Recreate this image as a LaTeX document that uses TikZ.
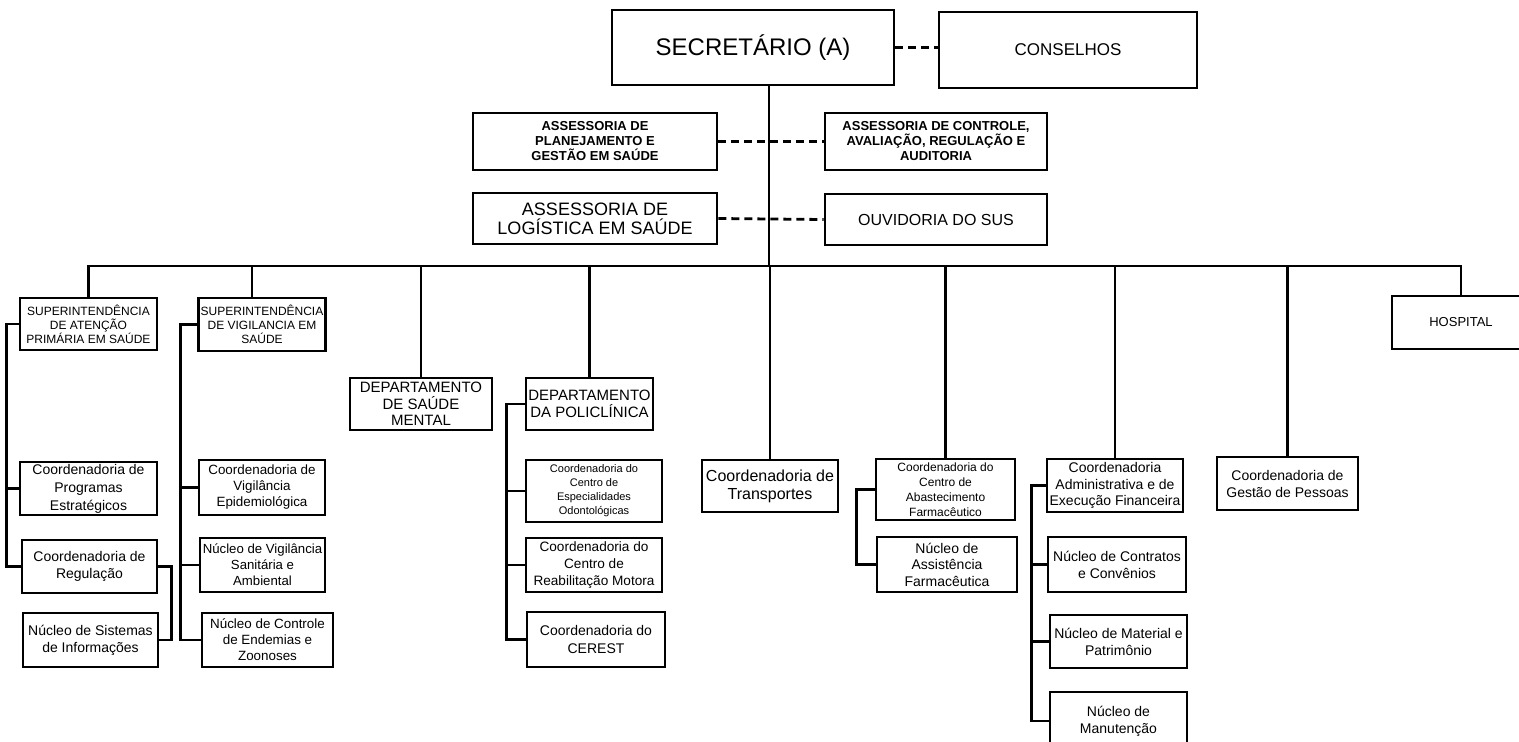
\documentclass[tikz,border=0pt]{standalone}
\usepackage{fontspec}
\setmainfont{Liberation Sans}
\usepackage{tikz}
\usetikzlibrary{calc,positioning}

\begin{document}
\begin{tikzpicture}[x=0.5pt,y=-0.5pt,
  caixa/.style 2 args={draw,line width=1.4pt,align=center,inner sep=1pt,
    minimum width=#1*0.5pt,minimum height=#2*0.5pt},
  fs/.style 2 args={font=\fontsize{#1}{#2}\selectfont},
  liga/.style={line width=1.4pt},
  tracejado/.style={line width=1.4pt,dash pattern=on 4pt off 2.5pt}]
  \useasboundingbox (0,0) rectangle (1519,741);
  \clip (0,0) rectangle (1519,741);
  % topo
  \node[caixa={282}{75},fs={12}{14}] (sec) at (753,47.5) {SECRETÁRIO (A)};
  \node[caixa={258}{76},fs={8.5}{10}] (cons) at (1068,50) {CONSELHOS};
  \node[caixa={244}{57},font=\bfseries\fontsize{6.5}{7.5}\selectfont] (aplan) at (595,141.5) {ASSESSORIA DE\\PLANEJAMENTO E\\GESTÃO EM SAÚDE};
  \node[caixa={222}{57},font=\bfseries\fontsize{6.5}{7.5}\selectfont] (actrl) at (936,141.5) {ASSESSORIA DE CONTROLE,\\AVALIAÇÃO, REGULAÇÃO E\\AUDITORIA};
  \node[caixa={244}{51},fs={9}{9.5}] (alog) at (595,218.5) {ASSESSORIA DE\\LOGÍSTICA EM SAÚDE};
  \node[caixa={222}{51},fs={8}{9}] (ouv) at (936,219.5) {OUVIDORIA DO SUS};
  \coordinate (tronco) at (769,266);
  \draw[liga] (sec.south -| tronco) -- (tronco);
  \draw[tracejado] (sec.east) -- (sec.east -| cons.west);
  \draw[tracejado] (aplan.east) -- (actrl.west);
  \draw[tracejado] (alog.east) -- (ouv.west);
  % segundo nivel
  \node[caixa={137}{52},fs={6}{7}] (sat) at (88.5,324) {SUPERINTENDÊNCIA\\DE ATENÇÃO\\PRIMÁRIA EM SAÚDE};
  \node[caixa={126}{53},fs={6}{7}] (svs) at (262,324.5) {SUPERINTENDÊNCIA\\DE VIGILANCIA EM\\SAÚDE};
  \node[caixa={142}{52},fs={7.5}{8.3}] (dsm) at (421,404) {DEPARTAMENTO\\DE SAÚDE\\MENTAL};
  \node[caixa={127}{52},fs={7.5}{8.3}] (dpol) at (589.5,404) {DEPARTAMENTO\\DA POLICLÍNICA};
  \node[caixa={136}{52},fs={8}{9}] (ctr) at (770,486) {Coordenadoria de\\Transportes};
  \node[caixa={139}{61},fs={6}{7.5}] (caf) at (945.5,489.5) {Coordenadoria do\\Centro de\\Abastecimento\\Farmacêutico};
  \node[caixa={136}{53},fs={7}{8.3}] (cafin) at (1115,485.5) {Coordenadoria\\Administrativa e de\\Execução Financeira};
  \node[caixa={141}{53},fs={7}{8.5}] (cgp) at (1287.5,483.5) {Coordenadoria de\\Gestão de Pessoas};
  \node[caixa={138}{53},fs={6.5}{8}] (hosp) at (1461,322.5) {HOSPITAL};
  \draw[liga] (sat.north) -- (sat.north |- tronco) -- (hosp.north |- tronco) -- (hosp.north);
  \draw[liga] ($(svs.north |- tronco)+(-10,0)$) -- ($(svs.north)+(-10,0)$);
  \foreach \n in {dsm,dpol,ctr,caf,cafin,cgp}
    \draw[liga] (\n.north |- tronco) -- (\n.north);
  % atencao primaria
  \node[caixa={137}{53},fs={7}{9}] (cpe) at (88.5,488.5) {Coordenadoria de\\Programas\\Estratégicos};
  \node[caixa={135}{53},fs={7}{8.5}] (creg) at (89.5,566.5) {Coordenadoria de\\Regulação};
  \node[caixa={135}{54},fs={7}{8.5}] (nsi) at (90.5,640) {Núcleo de Sistemas\\de Informações};
  \draw[liga] (sat.west) -- ++(-12,0) |- (creg.west);
  \draw[liga] (sat.west) ++(-12,0) |- (cpe.west);
  \draw[liga] (creg.east) -- ++(13,0) |- (nsi.east);
  % vigilancia
  \node[caixa={126}{55},fs={6.7}{8}] (cve) at (262,487.5) {Coordenadoria de\\Vigilância\\Epidemiológica};
  \node[caixa={125}{54},fs={6.6}{8}] (nvs) at (262.5,565) {Núcleo de Vigilância\\Sanitária e\\Ambiental};
  \node[caixa={131}{54},fs={6.7}{8}] (nce) at (267.5,640) {Núcleo de Controle\\de Endemias e\\Zoonoses};
  \draw[liga] (svs.west) -- ++(-17,0) |- (nce.west);
  \foreach \n in {cve,nvs}
    \draw[liga] (svs.west) ++(-17,0) |- (\n.west);
  % policlinica
  \node[caixa={136}{62},fs={5.5}{7}] (ceo) at (594,491) {Coordenadoria do\\Centro de\\Especialidades\\Odontológicas};
  \node[caixa={136}{54},fs={6.8}{8.5}] (crm) at (594,565) {Coordenadoria do\\Centro de\\Reabilitação Motora};
  \node[caixa={138}{55},fs={7}{9}] (cer) at (596,639.5) {Coordenadoria do\\CEREST};
  \draw[liga] (dpol.west) -- ++(-18,0) |- (cer.west);
  \foreach \n in {ceo,crm}
    \draw[liga] (dpol.west) ++(-18,0) |- (\n.west);
  % assistencia farmaceutica
  \node[caixa={140}{55},fs={7}{8.3}] (naf) at (947,564.5) {Núcleo de\\Assistência\\Farmacêutica};
  \draw[liga] (caf.west) -- ++(-18,0) |- (naf.west);
  % administrativa
  \node[caixa={138}{55},fs={7}{8.5}] (ncc) at (1117,564.5) {Núcleo de Contratos\\e Convênios};
  \node[caixa={137}{53},fs={7}{8.5}] (nmp) at (1118.5,641.5) {Núcleo de Material e\\Patrimônio};
  \node[caixa={137}{58},fs={7}{8.5}] (nman) at (1118.5,721) {Núcleo de\\Manutenção};
  \draw[liga] (cafin.west) -- ++(-14,0) |- (nman.west);
  \foreach \n in {ncc,nmp}
    \draw[liga] (cafin.west) ++(-14,0) |- (\n.west);
\end{tikzpicture}
\end{document}
